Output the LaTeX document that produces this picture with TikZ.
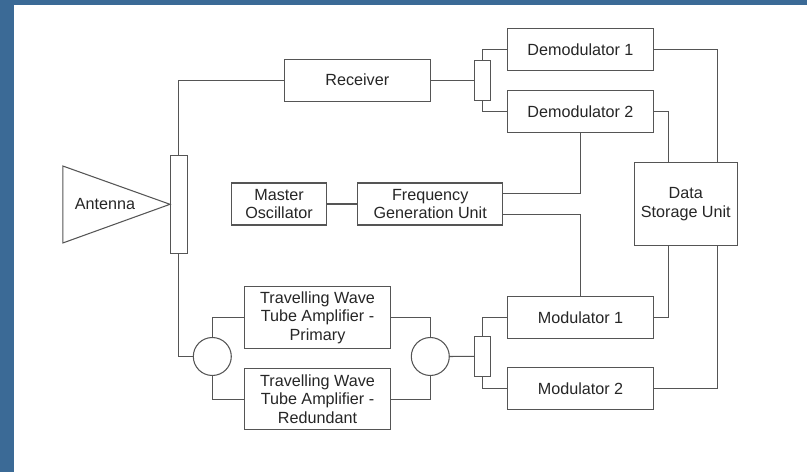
\documentclass[tikz,border=0pt]{standalone}
\usepackage{fontspec}
\setmainfont{Liberation Sans}
\usetikzlibrary{positioning}

\definecolor{slideblue}{RGB}{59,106,150}
\definecolor{linegrey}{RGB}{85,85,85}

\tikzset{
  blk/.style={draw=linegrey, line width=0.6pt, align=center, text=black!85,
    minimum width=2.92cm, minimum height=0.84cm, inner sep=1pt},
  bar/.style={draw=linegrey, line width=0.6pt, minimum width=0.33cm, inner sep=0pt},
  joint/.style={draw=linegrey, line width=0.6pt, circle, minimum size=0.76cm, inner sep=0pt},
  link/.style={draw=linegrey, line width=0.6pt}
}

\begin{document}
\begin{tikzpicture}[x=0.02cm, y=-0.02cm, font=\fontsize{9.2}{10.6}\selectfont]
    \fill[slideblue] (0,0) rectangle (807,472);
    \fill[white] (13.7,4.7) rectangle (807,472);
    \useasboundingbox (0,0) rectangle (807,472);

    % receive side
    \node[blk] (rx) at (357.3,80.2) {Receiver};
    \node[bar, minimum height=0.8cm] (upbar) at (482.7,80.2) {};
    \node[blk] (dem1) at (580.5,49.3) {Demodulator 1};
    \node[blk, below of=dem1, node distance=1.24cm] (dem2) {Demodulator 2};
    \node[blk, minimum width=2.05cm, minimum height=1.65cm] (dsu) at (685.8,204.2) {Data\\Storage Unit};

    % antenna
    \draw[link, text=black!85] (62.8,166) -- (170,204.3) -- (62.8,243) -- cycle;
    \node[text=black!85] (ant) at (105,204) {Antenna};
    \node[bar, minimum height=1.95cm] (lbar) at (178.8,204.3) {};

    % frequency chain
    \node[blk, minimum width=1.89cm] (mo) at (279,204) {Master\\Oscillator};
    \node[blk, minimum width=2.9cm] (fgu) at (430.2,204) {Frequency\\Generation Unit};

    % transmit side
    \node[blk, minimum height=1.23cm] (twtp) at (317.5,317.5)
        {Travelling Wave\\Tube Amplifier -\\Primary};
    \node[blk, minimum height=1.23cm, below of=twtp, node distance=1.634cm] (twtr)
        {Travelling Wave\\Tube Amplifier -\\Redundant};
    \node[joint] (lcirc) at (212.3,356.5) {};
    \node[joint] (rcirc) at (430.3,356.5) {};
    \node[bar, minimum height=0.79cm] (lowbar) at (482.7,356.3) {};
    \node[blk] (mod1) at (580.5,317.7) {Modulator 1};
    \node[blk, below of=mod1, node distance=1.416cm] (mod2) {Modulator 2};

    \draw[link] (lbar.north) |- (rx.west);
    \draw[link] (lbar.south) |- (lcirc.west);
    \draw[link] (lcirc.north) |- (twtp.west);
    \draw[link] (lcirc.south) |- (twtr.west);
    \draw[link] (twtp.east) -| (rcirc.north);
    \draw[link] (twtr.east) -| (rcirc.south);
    \draw[link] (rcirc.east) -- (lowbar.west);
    \draw[link] (lowbar.north) |- (mod1.west);
    \draw[link] (lowbar.south) |- (mod2.west);
    \draw[link] (rx.east) -- (upbar.west);
    \draw[link] (upbar.north) |- (dem1.west);
    \draw[link] (upbar.south) |- (dem2.west);
    \draw[link] (dem1.east) -| (dsu.53);
    \draw[link] (dem2.east) -| (dsu.112);
    \draw[link] (mod1.east) -| (dsu.-112);
    \draw[link] (mod2.east) -| (dsu.-53);
    \draw[link] (mo) -- (fgu);
    \draw[link] (dem2.south) |- (fgu.8);
    \draw[link] (fgu.-8) -| (mod1.north);
\end{tikzpicture}
\end{document}
